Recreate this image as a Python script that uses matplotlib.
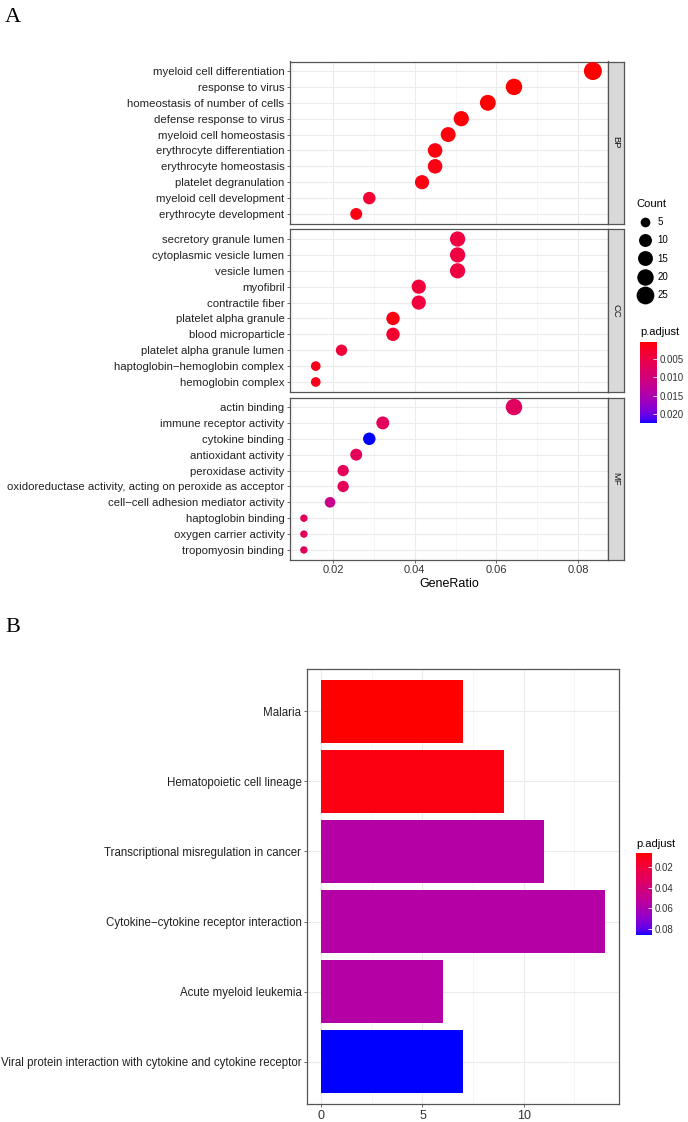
import numpy as np
import matplotlib
matplotlib.use('Agg')
import matplotlib.pyplot as plt
from matplotlib import font_manager
from matplotlib.colors import LinearSegmentedColormap, Normalize
from matplotlib.cm import ScalarMappable
from matplotlib.lines import Line2D

names = {f.name for f in font_manager.fontManager.ttflist}
sans = 'Liberation Sans Narrow' if 'Liberation Sans Narrow' in names else 'Liberation Sans'
plt.rcParams['font.family'] = [sans, 'DejaVu Sans']

# ---- panel A data (GO dotplot) ----
bp_terms = ['myeloid cell differentiation', 'response to virus', 'homeostasis of number of cells',
            'defense response to virus', 'myeloid cell homeostasis', 'erythrocyte differentiation',
            'erythrocyte homeostasis', 'platelet degranulation', 'myeloid cell development',
            'erythrocyte development']
bp_ratio = [0.0836, 0.0643, 0.0579, 0.0514, 0.0482, 0.0450, 0.0450, 0.0418, 0.0289, 0.0257]
bp_count = [26, 20, 18, 16, 15, 14, 14, 13, 9, 8]
bp_padj = [0.0004, 0.0004, 0.0005, 0.0006, 0.0008, 0.0010, 0.0012, 0.0012, 0.0035, 0.0012]

cc_terms = ['secretory granule lumen', 'cytoplasmic vesicle lumen', 'vesicle lumen', 'myofibril',
            'contractile fiber', 'platelet alpha granule', 'blood microparticle',
            'platelet alpha granule lumen', 'haptoglobin\u2212hemoglobin complex', 'hemoglobin complex']
cc_ratio = [0.0505, 0.0505, 0.0505, 0.0410, 0.0410, 0.0347, 0.0347, 0.0221, 0.0158, 0.0158]
cc_count = [16, 16, 16, 13, 13, 11, 11, 7, 5, 5]
cc_padj = [0.0045, 0.0045, 0.0045, 0.0040, 0.0042, 0.0012, 0.0030, 0.0040, 0.0015, 0.0015]

mf_terms = ['actin binding', 'immune receptor activity', 'cytokine binding', 'antioxidant activity',
            'peroxidase activity', 'oxidoreductase activity, acting on peroxide as acceptor',
            'cell\u2212cell adhesion mediator activity', 'haptoglobin binding',
            'oxygen carrier activity', 'tropomyosin binding']
mf_ratio = [0.0643, 0.0322, 0.0289, 0.0257, 0.0225, 0.0225, 0.0193, 0.0129, 0.0129, 0.0129]
mf_count = [20, 10, 9, 8, 7, 7, 6, 4, 4, 4]
mf_padj = [0.0075, 0.0070, 0.0225, 0.0068, 0.0068, 0.0068, 0.0115, 0.0068, 0.0068, 0.0068]

facets = ['BP', 'CC', 'MF']
count_breaks = [5, 10, 15, 20, 25]
padj_ticks_a = [0.005, 0.010, 0.015, 0.020]

# ---- panel B data (KEGG barplot) ----
kegg_terms = ['Malaria', 'Hematopoietic cell lineage', 'Transcriptional misregulation in cancer',
              'Cytokine\u2212cytokine receptor interaction', 'Acute myeloid leukemia',
              'Viral protein interaction with cytokine and cytokine receptor']
kegg_count = [7, 9, 11, 14, 6, 7]
kegg_padj = [0.0065, 0.0090, 0.0560, 0.0560, 0.0560, 0.0858]
padj_ticks_b = [0.02, 0.04, 0.06, 0.08]

W, H = 688, 1122
fig = plt.figure(figsize=(W / 100, H / 100), dpi=100)


def rect(x0, y0, x1, y1):
    return [x0 / W, 1 - y1 / H, (x1 - x0) / W, (y1 - y0) / H]


# red -> blue gradient interpolated in Lab space, like ggplot's scale_colour_gradient
WHITE = np.array([0.95047, 1.0, 1.08883])
M = np.array([[0.4124564, 0.3575761, 0.1804375],
              [0.2126729, 0.7151522, 0.0721750],
              [0.0193339, 0.1191920, 0.9503041]])


def to_lab(rgb):
    c = np.asarray(rgb, float)
    lin = np.where(c <= 0.04045, c / 12.92, ((c + 0.055) / 1.055) ** 2.4)
    xyz = M @ lin / WHITE
    d = 6 / 29
    f = np.where(xyz > d ** 3, np.cbrt(xyz), xyz / (3 * d * d) + 4 / 29)
    return np.array([116 * f[1] - 16, 500 * (f[0] - f[1]), 200 * (f[1] - f[2])])


def from_lab(lab):
    L, a, b = lab
    fy = (L + 16) / 116
    f = np.array([fy + a / 500, fy, fy - b / 200])
    d = 6 / 29
    xyz = np.where(f > d, f ** 3, 3 * d * d * (f - 4 / 29)) * WHITE
    lin = np.linalg.solve(M, xyz)
    lin = np.clip(lin, 0, 1)
    c = np.where(lin <= 0.0031308, 12.92 * lin, 1.055 * lin ** (1 / 2.4) - 0.055)
    return np.clip(c, 0, 1)


lo, hi = to_lab([1, 0, 0]), to_lab([0, 0, 1])
cmap = LinearSegmentedColormap.from_list('rb', [from_lab(lo + (hi - lo) * t) for t in np.linspace(0, 1, 64)])

GRID = '#EBEBEB'
BORDER = '#555555'
TXT = '#333333'


def style(ax):
    for s in ax.spines.values():
        s.set_color(BORDER)
        s.set_linewidth(0.9)
    ax.grid(True, which='major', color=GRID, lw=0.8, zorder=0)
    ax.grid(True, which='minor', color='#F3F3F3', lw=0.5, zorder=0)
    ax.set_axisbelow(True)
    ax.tick_params(which='major', length=2.5, width=0.6, color=BORDER, labelsize=8, labelcolor=TXT, pad=1.5)
    ax.tick_params(which='minor', length=0)


# ---- panel A ----
all_padj = bp_padj + cc_padj + mf_padj
norm_a = Normalize(vmin=0.00035, vmax=max(all_padj))
all_count = bp_count + cc_count + mf_count
cmin, cmax = min(all_count), max(all_count)
px_per_mm = 2.25


def dot_size(c):
    # size scale with area mapping, range roughly c(3.3, 8)
    mm = 3.3 + 4.7 * np.sqrt((np.asarray(c, float) - cmin) / (cmax - cmin))
    return (mm * px_per_mm * 0.72) ** 2


panels = [(bp_terms, bp_ratio, bp_count, bp_padj),
          (cc_terms, cc_ratio, cc_count, cc_padj),
          (mf_terms, mf_ratio, mf_count, mf_padj)]
tops = [61.5, 229.5, 397.5]
for i, (terms, ratio, count, padj) in enumerate(panels):
    ax = fig.add_axes(rect(290, tops[i], 608, tops[i] + 162))
    y = np.arange(len(terms))
    ax.scatter(ratio, y, s=dot_size(count), c=padj, cmap=cmap, norm=norm_a, edgecolors='none', zorder=3)
    ax.set_yticks(y)
    ax.set_yticklabels(terms)
    ax.set_ylim(len(terms) - 0.4, -0.6)
    ax.set_xlim(0.0095, 0.0873)
    ax.set_xticks([0.02, 0.04, 0.06, 0.08])
    ax.set_xticks([0.01, 0.03, 0.05, 0.07], minor=True)
    style(ax)
    ax.tick_params(axis='y', labelsize=8.2, labelcolor='#222222')
    if i < 2:
        ax.tick_params(axis='x', which='both', bottom=False, labelbottom=False)
    else:
        ax.set_xticklabels(['0.02', '0.04', '0.06', '0.08'])
        ax.set_xlabel('GeneRatio', fontsize=9, labelpad=2)
    sx = fig.add_axes(rect(608, tops[i], 624, tops[i] + 162))
    sx.set_facecolor('#D9D9D9')
    sx.set_xticks([])
    sx.set_yticks([])
    for s in sx.spines.values():
        s.set_color(BORDER)
        s.set_linewidth(0.9)
    sx.text(0.5, 0.5, facets[i], rotation=270, ha='center', va='center', fontsize=6.8,
            color='#1A1A1A', transform=sx.transAxes)

# Count legend
handles = [Line2D([], [], marker='o', ls='', color='black',
                  markersize=np.sqrt(dot_size(c)), markeredgewidth=0) for c in count_breaks]
fig.legend(handles, [str(c) for c in count_breaks], title='Count', loc='upper left',
           bbox_to_anchor=(632 / W, 1 - 194 / H), frameon=False, fontsize=7,
           title_fontsize=8, labelspacing=0.85, handletextpad=0.5, borderpad=0,
           alignment='left', handlelength=1.6)

cax = fig.add_axes(rect(640, 342, 657, 423))
cb = fig.colorbar(ScalarMappable(norm=norm_a, cmap=cmap), cax=cax, ticks=padj_ticks_a)
cb.outline.set_visible(False)
cax.invert_yaxis()
cax.set_yticklabels(['0.005', '0.010', '0.015', '0.020'])
cax.tick_params(length=3, color='white', width=0.6, labelsize=7, labelcolor=TXT, pad=2, direction='in')
fig.text(640 / W, 1 - 332 / H, 'p.adjust', fontsize=8, ha='left', va='center')

fig.text(5 / W, 1 - 18 / H, 'A', fontsize=16, family='Liberation Serif', ha='left', va='center')
fig.text(5 / W, 1 - 628 / H, 'B', fontsize=16, family='Liberation Serif', ha='left', va='center')

# ---- panel B ----
norm_b = Normalize(vmin=min(kegg_padj), vmax=max(kegg_padj))
axb = fig.add_axes(rect(307, 669, 619, 1104))
yb = np.arange(len(kegg_terms))
axb.barh(yb, kegg_count, height=0.9, color=cmap(norm_b(kegg_padj)), zorder=3)
axb.set_yticks(yb)
axb.set_yticklabels(kegg_terms)
axb.set_ylim(len(kegg_terms) - 0.4, -0.6)
axb.set_xlim(-0.7, 14.7)
axb.set_xticks([0, 5, 10])
axb.set_xticks([2.5, 7.5, 12.5], minor=True)
style(axb)
axb.tick_params(axis='y', labelsize=8.3, labelcolor='#222222')
axb.tick_params(axis='x', labelsize=9)

caxb = fig.add_axes(rect(636, 853, 652, 935))
cbb = fig.colorbar(ScalarMappable(norm=norm_b, cmap=cmap), cax=caxb, ticks=padj_ticks_b)
cbb.outline.set_visible(False)
caxb.invert_yaxis()
caxb.set_yticklabels(['0.02', '0.04', '0.06', '0.08'])
caxb.tick_params(length=3, color='white', width=0.6, labelsize=7, labelcolor=TXT, pad=2, direction='in')
fig.text(636 / W, 1 - 844 / H, 'p.adjust', fontsize=8, ha='left', va='center')

fig.savefig('out.png', dpi=100)
